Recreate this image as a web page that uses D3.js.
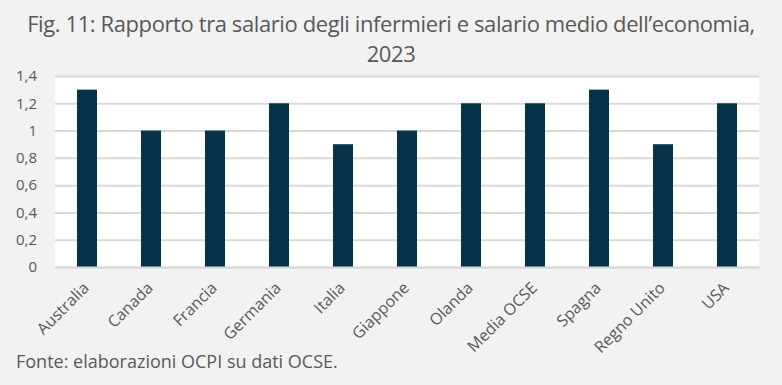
<!DOCTYPE html>
<html>
<head>
<meta charset="utf-8">
<script src="https://cdn.jsdelivr.net/npm/d3@7"></script>
<style>
  body { margin: 0; background: #f2f2f2; }
  svg { display: block; }
</style>
</head>
<body>
<div id="chart"></div>
<script>
// dati
var paesi = ['Australia', 'Canada', 'Francia', 'Germania', 'Italia', 'Giappone',
  'Olanda', 'Media OCSE', 'Spagna', 'Regno Unito', 'USA'];
var rapporto = [1.3, 1.0, 1.0, 1.2, 0.9, 1.0, 1.2, 1.2, 1.3, 0.9, 1.2];
var yTicks = [0, 0.2, 0.4, 0.6, 0.8, 1, 1.2, 1.4];
var titolo = ['Fig. 11: Rapporto tra salario degli infermieri e salario medio dell\u2019economia,', '2023'];
var fonte = 'Fonte: elaborazioni OCPI su dati OCSE.';

var W = 782, H = 385;
var margin = { top: 76, right: 23, bottom: 118, left: 55 };
var w = W - margin.left - margin.right;
var h = H - margin.top - margin.bottom;
var grey = '#595959';

var svg = d3.select('#chart').append('svg')
  .attr('width', W)
  .attr('height', H);

svg.append('rect')
  .attr('width', W).attr('height', H)
  .attr('fill', '#f2f2f2');

// titolo
svg.selectAll('text.title').data(titolo)
  .enter().append('text')
  .attr('class', 'title')
  .attr('x', 391)
  .attr('y', function (d, i) { return 32 + i * 30; })
  .attr('text-anchor', 'middle')
  .attr('fill', grey)
  .style('font-family', '"Open Sans", sans-serif')
  .style('font-size', '22px')
  .style('letter-spacing', '-0.4px')
  .text(function (d) { return d; });

var g = svg.append('g')
  .attr('transform', 'translate(' + margin.left + ',' + margin.top + ')');

g.append('rect')
  .attr('width', w).attr('height', h)
  .attr('fill', '#ffffff');

var x = d3.scaleBand()
  .domain(paesi)
  .range([0, w])
  .paddingInner(0.6875)
  .paddingOuter(0.34375);

var y = d3.scaleLinear()
  .domain([0, 1.4])
  .range([h, 0]);

var fmt = function (d) { return String(d).replace('.', ','); };

// griglia + asse y
var yAxis = g.append('g')
  .call(d3.axisLeft(y).tickValues(yTicks).tickSize(-w).tickFormat(fmt));
yAxis.select('.domain').remove();
yAxis.selectAll('.tick line')
  .attr('stroke', '#d9d9d9')
  .attr('stroke-width', 2);
yAxis.selectAll('.tick text')
  .attr('x', -18)
  .attr('fill', grey)
  .style('font-family', '"Open Sans", sans-serif')
  .style('font-size', '15px');

// barre
g.selectAll('rect.bar').data(rapporto)
  .enter().append('rect')
  .attr('class', 'bar')
  .attr('x', function (d, i) { return x(paesi[i]); })
  .attr('y', function (d) { return y(d); })
  .attr('width', x.bandwidth())
  .attr('height', function (d) { return h - y(d); })
  .attr('fill', '#06334a');

// asse x
var xAxis = g.append('g')
  .attr('transform', 'translate(0,' + h + ')')
  .call(d3.axisBottom(x).tickSize(0));
xAxis.select('.domain')
  .attr('stroke', '#d9d9d9')
  .attr('stroke-width', 2);
xAxis.selectAll('.tick text')
  .attr('fill', grey)
  .style('font-family', '"Open Sans", sans-serif')
  .style('font-size', '16px')
  .attr('text-anchor', 'end')
  .attr('dy', null)
  .attr('transform', 'translate(3,22) rotate(-45)')
  .attr('y', 0)
  .attr('x', 0);

// fonte
svg.append('text')
  .attr('x', 16)
  .attr('y', 368)
  .attr('fill', grey)
  .style('font-family', '"Open Sans", sans-serif')
  .style('font-size', '18px')
  .text(fonte);
</script>
</body>
</html>
